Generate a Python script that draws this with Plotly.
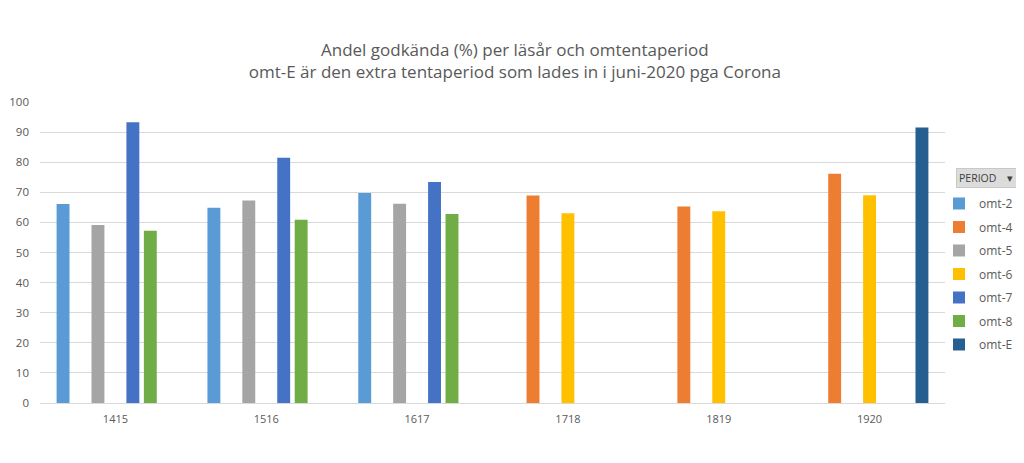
import plotly.graph_objects as go

categories = ["1415", "1516", "1617", "1718", "1819", "1920"]
series_names = ["omt-2", "omt-4", "omt-5", "omt-6", "omt-7", "omt-8", "omt-E"]
omt_2 = [66.1, 64.9, 69.8, None, None, None]
omt_4 = [None, None, None, 68.9, 65.3, 76.2]
omt_5 = [59.1, 67.3, 66.2, None, None, None]
omt_6 = [None, None, None, 63.0, 63.7, 69.0]
omt_7 = [93.3, 81.5, 73.4, None, None, None]
omt_8 = [57.2, 60.9, 62.8, None, None, None]
omt_E = [None, None, None, None, None, 91.5]
colors = ["#5B9BD5", "#ED7D31", "#A5A5A5", "#FFC000", "#4472C4", "#70AD47", "#255E91"]
y_ticks = list(range(0, 101, 10))

values = [omt_2, omt_4, omt_5, omt_6, omt_7, omt_8, omt_E]

FONT = "Open Sans, Liberation Sans, sans-serif"
fig = go.Figure()
for name, vals, col in zip(series_names, values, colors):
    fig.add_trace(go.Bar(
        x=categories, y=vals, name=name, marker_color=col,
        marker_line_width=0, legendgroup=name,
    ))

fig.update_layout(
    width=1024, height=463,
    margin=dict(l=32, r=87, t=94, b=68, autoexpand=False),
    paper_bgcolor="white", plot_bgcolor="white",
    barmode="group", bargap=0.19, bargroupgap=0.26,
    title=dict(
        text="Andel godkända (%) per läsår och omtentaperiod<br>omt-E är den extra tentaperiod som lades in i juni-2020 pga Corona",
        x=0.495, xanchor="center", y=0.8955, yanchor="middle",
        font=dict(family=FONT, size=17, color="#595959"),
    ),
    font=dict(family=FONT, color="#595959"),
    xaxis=dict(
        type="category", showgrid=False, ticks="", showline=True,
        linecolor="#d9d9d9", linewidth=1, ticklabelstandoff=6,
        automargin=False,
        tickfont=dict(size=11, color="#595959"),
    ),
    yaxis=dict(
        range=[0, 100], tickvals=y_ticks, showgrid=True, gridcolor="#d9d9d9",
        gridwidth=1, zeroline=False, ticks="", showline=False,
        ticklabelstandoff=10, automargin=False,
        tickfont=dict(size=11.5, color="#595959"),
    ),
    legend=dict(
        x=0.9934, xanchor="left", y=0.711, yanchor="top",
        font=dict(size=12, color="#595959", family=FONT),
        tracegroupgap=4.5, itemclick=False,
        bgcolor="rgba(0,0,0,0)",
    ),
)

fig.add_annotation(
    text="PERIOD    \u25BE", xref="paper", yref="paper",
    x=1.012, y=0.746, xanchor="left", yanchor="middle",
    showarrow=False, bgcolor="#dcdcdc", bordercolor="#c8c8c8", borderwidth=1,
    borderpad=2, width=60, align="left",
    font=dict(size=10.5, color="#404040", family=FONT),
)

fig.write_html("out.html")
